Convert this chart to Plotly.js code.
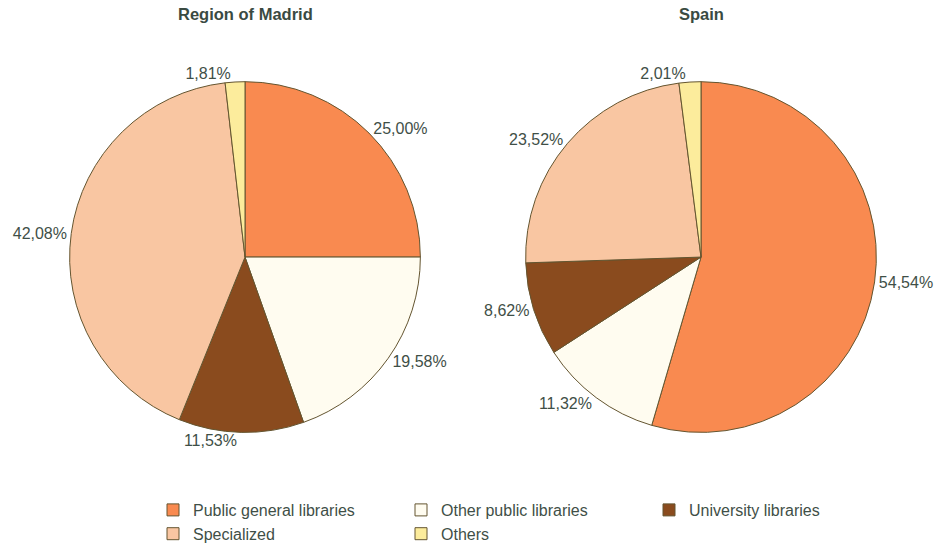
<!DOCTYPE html>
<html><head><meta charset="utf-8">
<script src="https://cdn.plot.ly/plotly-3.0.1.min.js"></script>
<style>html,body{margin:0;padding:0;background:#fff;}#chart{width:942px;height:551px;}</style>
</head><body><div id="chart"></div>
<script>
const categories = ["Public general libraries", "Other public libraries", "University libraries", "Specialized", "Others"];
const madridValues = [25.00, 19.58, 11.53, 42.08, 1.81];
const spainValues = [54.54, 11.32, 8.62, 23.52, 2.01];
const panelTitles = ["Region of Madrid", "Spain"];
const colors = ["#f98a50", "#fffcf0", "#8a4b1e", "#f9c6a2", "#fcec9c"];

const txtColor = "#3f4f47";
function fmt(vals){ return vals.map(v => v.toFixed(2).replace(".", ",") + "%"); }

function pieTrace(vals, domain, showlegend){
  return {
    type: "pie", values: vals, labels: categories, sort: false, direction: "clockwise", rotation: 0,
    marker: {colors: colors, line: {color: "#645530", width: 1}},
    text: fmt(vals), textinfo: "text", textposition: "outside",
    textfont: {family: "Liberation Sans, Arial, sans-serif", size: 16, color: txtColor},
    domain: domain, showlegend: showlegend, hoverinfo: "label+value"
  };
}
const data = [
  pieTrace(madridValues, {x: [69/942, 421/942], y: [1-434/551, 1-82/551]}, true),
  pieTrace(spainValues, {x: [525/942, 877/942], y: [1-434/551, 1-82/551]}, false)
];
const layout = {
  width: 942, height: 551, margin: {l: 0, r: 0, t: 0, b: 0},
  paper_bgcolor: "#fff", plot_bgcolor: "#fff",
  font: {family: "Liberation Sans, Arial, sans-serif", color: txtColor},
  showlegend: true,
  legend: {orientation: "h", x: 153/942, y: 1-495/551, xanchor: "left", yanchor: "top",
    entrywidth: 203, entrywidthmode: "pixels", traceorder: "normal",
    font: {size: 16, color: txtColor}},
  annotations: [
    {text: "<b>" + panelTitles[0] + "</b>", x: 245/942, y: 1-14/551, xref: "paper", yref: "paper", xanchor: "center", yanchor: "middle", showarrow: false, font: {size: 16.5, color: "#3a4a42"}},
    {text: "<b>" + panelTitles[1] + "</b>", x: 701/942, y: 1-14/551, xref: "paper", yref: "paper", xanchor: "center", yanchor: "middle", showarrow: false, font: {size: 16.5, color: "#3a4a42"}}
  ]
};
Plotly.newPlot("chart", data, layout, {displayModeBar: false, staticPlot: true});
</script></body></html>
